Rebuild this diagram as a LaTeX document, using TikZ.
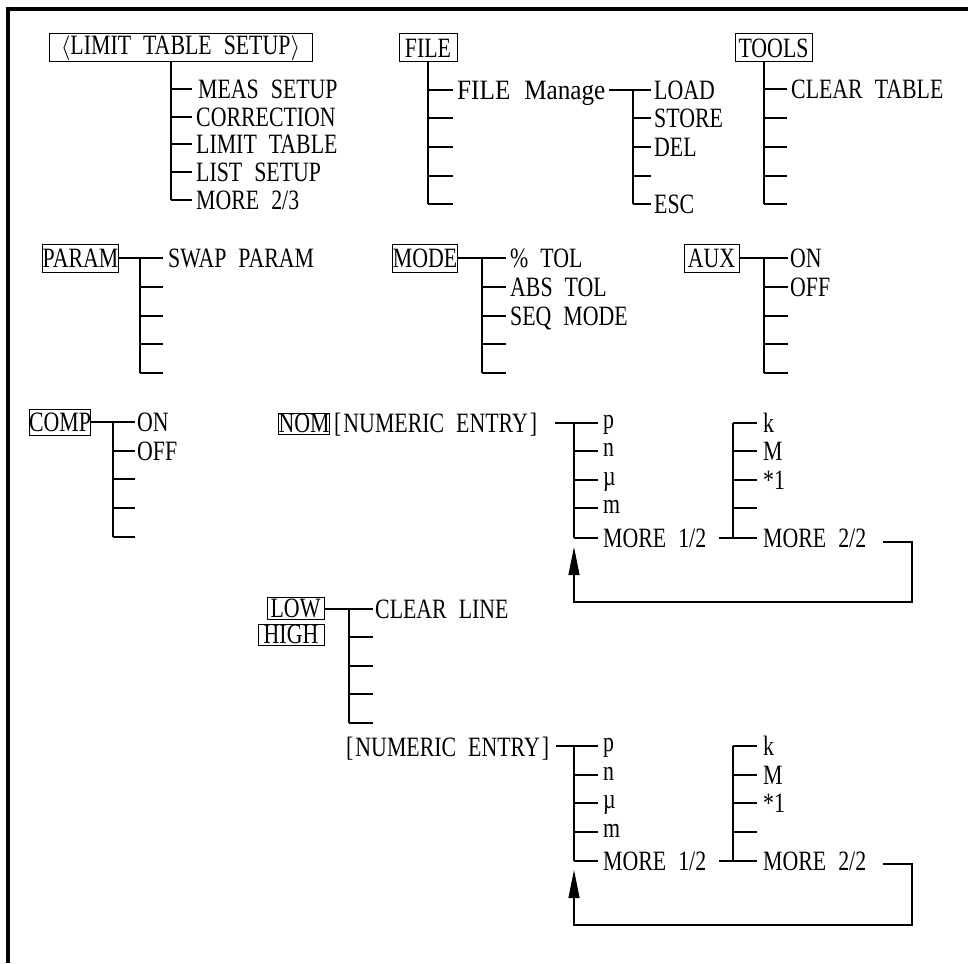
\documentclass[tikz,border=0pt]{standalone}
\usepackage{fontspec}
\setmainfont{Liberation Serif}[FakeStretch=0.78,WordSpace=2.2]
\newfontfamily\widefont{Liberation Serif}[FakeStretch=0.9,WordSpace=2.2]
\usetikzlibrary{arrows.meta}
\newcommand\dfs{\fontsize{28}{30}\selectfont}
\tikzset{
  ln/.style={line width=1.1pt},
  boxnode/.style={draw, line width=1pt, inner sep=0pt, font=\dfs, minimum height=28pt},
  lbl/.style={inner sep=0pt, anchor=base west, font=\dfs},
  ret/.style={ln, -{Triangle[length=28pt,width=11pt]}},
}
\begin{document}
\begin{tikzpicture}[x=1pt,y=-1pt]
\useasboundingbox (0,0) rectangle (968,963);
% frame
\coordinate (fbl) at (8,963); \coordinate (ftl) at (8,9); \coordinate (ftr) at (968,9);
\draw[line width=3.6pt] (fbl) -- (ftl) -- (ftr);

% ---------- LIMIT TABLE SETUP
\node[boxnode, minimum width=263pt] (lts) at (180.5,48) {$\langle$LIMIT TABLE SETUP$\rangle$};
\coordinate (ltsT) at (171,62); \coordinate (ltsB) at (171,200);
\draw[ln] (ltsT) -- (ltsB);
\foreach \y/\n in {89/1,117/2,144/3,172/4,200/5}{
  \coordinate (ltsj\n) at (171,\y); \coordinate (ltse\n) at (192,\y);
  \draw[ln] (ltsj\n) -- (ltse\n);}
\node[lbl] (lts1) at (198,98.5) {MEAS SETUP};
\node[lbl] (lts2) at (196,126.5) {CORRECTION};
\node[lbl] (lts3) at (196,153.5) {LIMIT TABLE};
\node[lbl] (lts4) at (196,181.5) {LIST SETUP};
\node[lbl] (lts5) at (196,209.5) {MORE 2/3};

% ---------- FILE
\node[boxnode, minimum width=58pt] (file) at (428,48) {FILE};
\coordinate (fileB) at (428,204);
\draw[ln] (file.south) -- (fileB);
\foreach \y/\n in {90/1,118/2,147/3,176/4,204/5}{
  \coordinate (filej\n) at (428,\y); \coordinate (filee\n) at (453,\y);
  \draw[ln] (filej\n) -- (filee\n);}
\node[lbl] (fm) at (457,99.5) {\widefont FILE Manage};
\coordinate (fmr) at (609,90); \coordinate (fmj) at (633,90);
\draw[ln] (fmr) -- (fmj);
\coordinate (fmB) at (633,204);
\draw[ln] (fmj) -- (fmB);
\foreach \y/\n in {90/1,118/2,147/3,176/4,204/5}{
  \coordinate (fmj\n) at (633,\y); \coordinate (fme\n) at (651,\y);
  \draw[ln] (fmj\n) -- (fme\n);}
\node[lbl] (load) at (654,99.5) {LOAD};
\node[lbl] (store) at (654,127.5) {STORE};
\node[lbl] (del) at (654,156.5) {DEL};
\node[lbl] (esc) at (654,213.5) {ESC};

% ---------- TOOLS
\node[boxnode, minimum width=77pt] (tools) at (773.5,48) {TOOLS};
\coordinate (toolsB) at (764,204); \coordinate (toolsT) at (764,62);
\draw[ln] (toolsT) -- (toolsB);
\foreach \y/\n in {89/1,118/2,147/3,176/4,204/5}{
  \coordinate (toolsj\n) at (764,\y); \coordinate (toolse\n) at (787,\y);
  \draw[ln] (toolsj\n) -- (toolse\n);}
\node[lbl] (clrt) at (791,98.5) {CLEAR TABLE};

% ---------- PARAM
\node[boxnode, minimum width=71pt] (param) at (80.5,258) {PARAM};
\coordinate (paramE) at (163,258); \coordinate (paramB) at (140,373);
\draw[ln] (param.east) -- (paramE);
\draw[ln] (140,258) -- (paramB);
\foreach \y/\n in {287/2,316/3,344/4,373/5}{
  \coordinate (paramj\n) at (140,\y); \coordinate (parame\n) at (163,\y);
  \draw[ln] (paramj\n) -- (parame\n);}
\node[lbl] (swap) at (168,267.5) {SWAP PARAM};

% ---------- MODE
\node[boxnode, minimum width=64pt] (mode) at (425,258) {MODE};
\coordinate (modeE) at (506,258); \coordinate (modeB) at (482,373);
\draw[ln] (mode.east) -- (modeE);
\draw[ln] (482,258) -- (modeB);
\foreach \y/\n in {287/2,316/3,344/4,373/5}{
  \coordinate (modej\n) at (482,\y); \coordinate (modee\n) at (506,\y);
  \draw[ln] (modej\n) -- (modee\n);}
\node[lbl] (ptol) at (510,267.5) {\% TOL};
\node[lbl] (atol) at (510,296.5) {ABS TOL};
\node[lbl] (seqm) at (510,325.5) {SEQ MODE};

% ---------- AUX
\node[boxnode, minimum width=55pt] (aux) at (711.5,258) {AUX};
\coordinate (auxE) at (788,258); \coordinate (auxB) at (764,373);
\draw[ln] (aux.east) -- (auxE);
\draw[ln] (764,258) -- (auxB);
\foreach \y/\n in {287/2,316/3,344/4,373/5}{
  \coordinate (auxj\n) at (764,\y); \coordinate (auxe\n) at (788,\y);
  \draw[ln] (auxj\n) -- (auxe\n);}
\node[lbl] (auxon) at (790,267.5) {ON};
\node[lbl] (auxoff) at (790,296.5) {OFF};

% ---------- COMP
\node[boxnode, minimum width=56pt, minimum height=26pt] (comp) at (60,422) {COMP};
\coordinate (compE) at (135,422); \coordinate (compB) at (113,537);
\draw[ln] (comp.east) -- (compE);
\draw[ln] (113,422) -- (compB);
\foreach \y/\n in {451/2,479/3,508/4,537/5}{
  \coordinate (compj\n) at (113,\y); \coordinate (compe\n) at (135,\y);
  \draw[ln] (compj\n) -- (compe\n);}
\node[lbl] (compon) at (137,431.5) {ON};
\node[lbl] (compoff) at (137,460.5) {OFF};

% ---------- NOM
\node[boxnode, minimum width=46pt, minimum height=21pt] (nom) at (304,423.5) {NOM};
\node[lbl] (ne1) at (334,432.5) {[\hspace{2pt}NUMERIC ENTRY\hspace{2pt}]};
\coordinate (ne1r) at (555,423); \coordinate (ne1e) at (598,423);
\draw[ln] (ne1r) -- (ne1e);
\draw[ln] (574,423) -- (574,538);
\draw[ln] (733,423) -- (733,538);
\foreach \y/\n in {451/2,480/3,508/4,538/5}{
  \coordinate (naj\n) at (574,\y); \coordinate (nae\n) at (598,\y);
  \draw[ln] (naj\n) -- (nae\n);}
\foreach \y/\n in {423/1,451/2,480/3,508/4,538/5}{
  \coordinate (nbj\n) at (733,\y); \coordinate (nbe\n) at (757,\y);
  \draw[ln] (nbj\n) -- (nbe\n);}
\coordinate (nm1r) at (719,538);
\draw[ln] (nm1r) -- (nbj5);
\node[lbl] (np) at (603,428.5) {p};
\node[lbl] (nn) at (603,456.5) {n};
\node[lbl] (nu) at (603,485.5) {µ};
\node[lbl] (nmm) at (603,513.5) {m};
\node[lbl] (nmore1) at (603,547.5) {MORE 1/2};
\node[lbl] (nk) at (763,432.5) {k};
\node[lbl] (nM) at (763,460.5) {M};
\node[lbl] (nx1) at (763,489.5) {*1};
\node[lbl] (nmore2) at (763,547.5) {MORE 2/2};
\coordinate (nr1) at (883,542); \coordinate (nr2) at (912,542);
\coordinate (nr3) at (912,602); \coordinate (nr4) at (574,602); \coordinate (nr5) at (574,547);
\draw[ret] (nr1) -- (nr2) -- (nr3) -- (nr4) -- (nr5);

% ---------- LOW / HIGH
\node[boxnode, minimum width=57pt, minimum height=22pt] (low) at (295.5,608) {LOW};
\node[boxnode, minimum width=66pt, minimum height=21pt] (high) at (291,634.5) {HIGH};
\coordinate (lowE) at (373,609); \coordinate (lowB) at (349,723);
\draw[ln] (low.east |- lowE) -- (lowE);
\draw[ln] (349,609) -- (lowB);
\foreach \y/\n in {637/2,666/3,694/4,723/5}{
  \coordinate (lowj\n) at (349,\y); \coordinate (lowe\n) at (373,\y);
  \draw[ln] (lowj\n) -- (lowe\n);}
\node[lbl] (clrl) at (375,618.5) {CLEAR LINE};

\node[lbl] (ne2) at (346,756) {[\hspace{2pt}NUMERIC ENTRY\hspace{2pt}]};
\coordinate (ne2r) at (556,746); \coordinate (ne2e) at (598,746);
\draw[ln] (ne2r) -- (ne2e);
\draw[ln] (574,746) -- (574,861);
\draw[ln] (733,746) -- (733,861);
\foreach \y/\n in {775/2,803/3,832/4,861/5}{
  \coordinate (ncj\n) at (574,\y); \coordinate (nce\n) at (598,\y);
  \draw[ln] (ncj\n) -- (nce\n);}
\foreach \y/\n in {746/1,775/2,803/3,832/4,861/5}{
  \coordinate (ndj\n) at (733,\y); \coordinate (nde\n) at (757,\y);
  \draw[ln] (ndj\n) -- (nde\n);}
\coordinate (nm3r) at (719,861);
\draw[ln] (nm3r) -- (ndj5);
\node[lbl] (hp) at (603,751.5) {p};
\node[lbl] (hn) at (603,780.5) {n};
\node[lbl] (hu) at (603,808.5) {µ};
\node[lbl] (hm) at (603,837.5) {m};
\node[lbl] (hmore1) at (603,870.5) {MORE 1/2};
\node[lbl] (hk) at (763,755.5) {k};
\node[lbl] (hM) at (763,784.5) {M};
\node[lbl] (hx1) at (763,812.5) {*1};
\node[lbl] (hmore2) at (763,870.5) {MORE 2/2};
\coordinate (hr1) at (883,864); \coordinate (hr2) at (912,864);
\coordinate (hr3) at (912,925); \coordinate (hr4) at (574,925); \coordinate (hr5) at (574,870);
\draw[ret] (hr1) -- (hr2) -- (hr3) -- (hr4) -- (hr5);
\end{tikzpicture}
\end{document}
